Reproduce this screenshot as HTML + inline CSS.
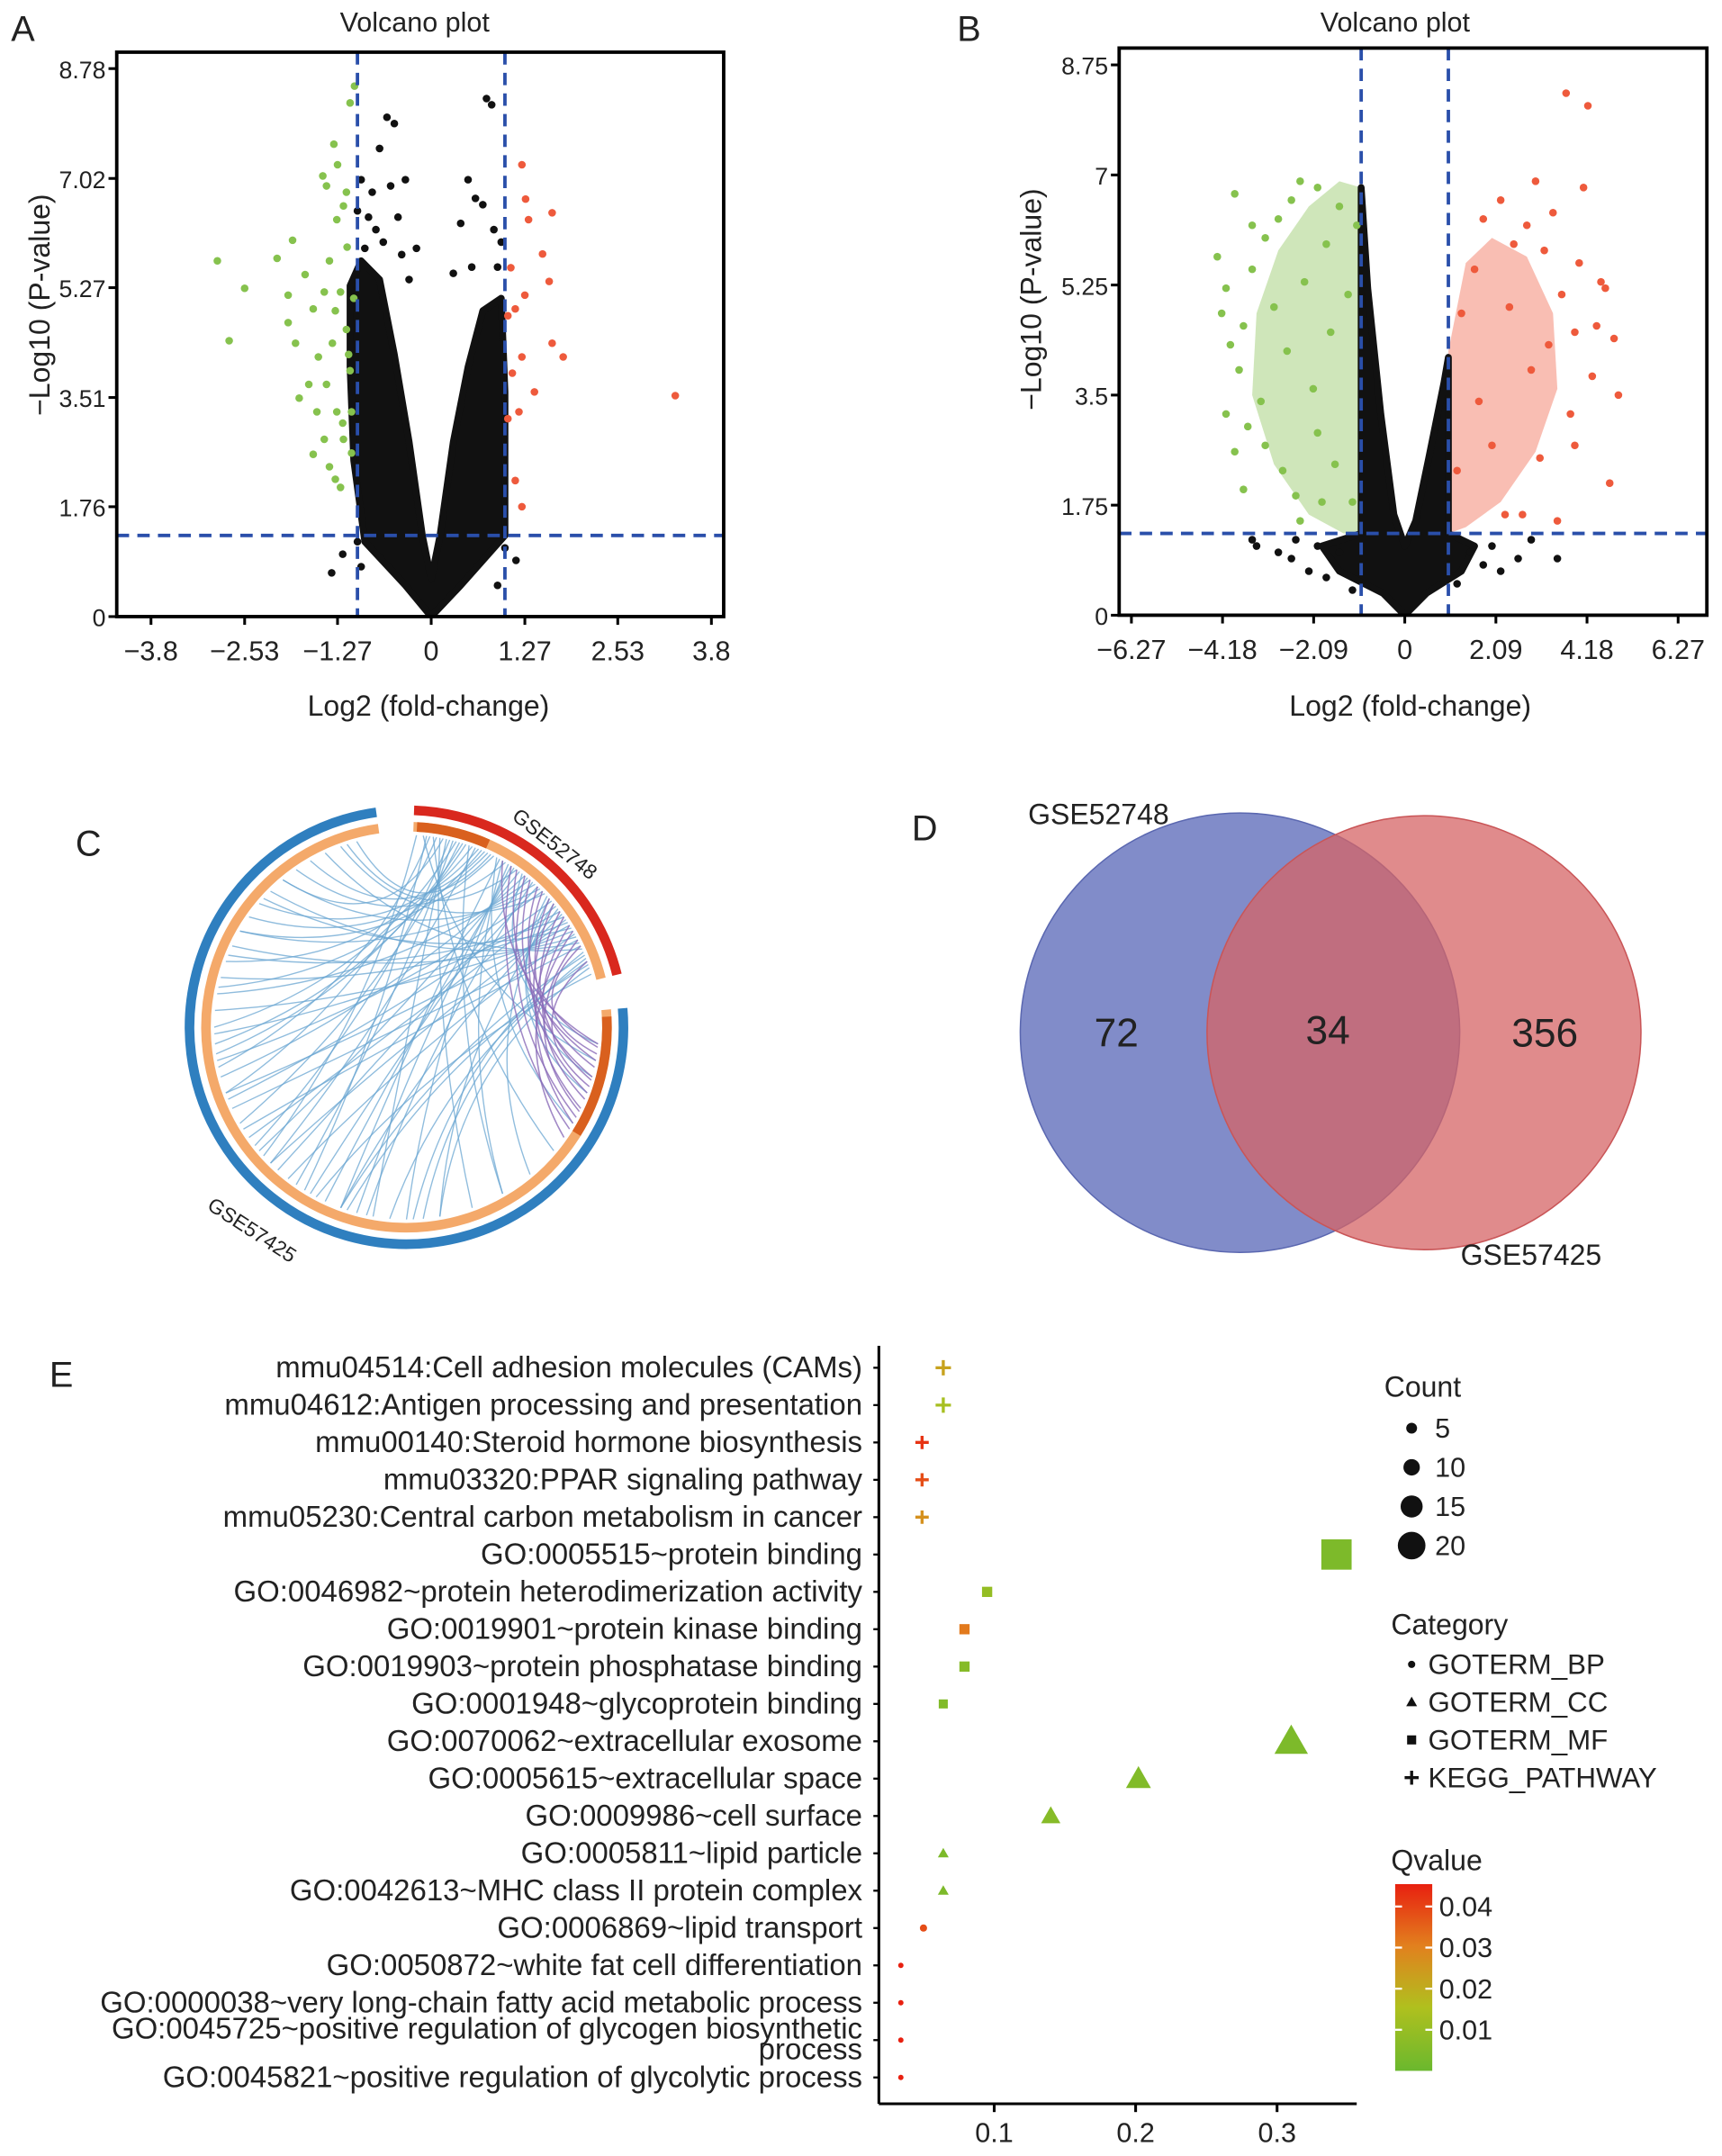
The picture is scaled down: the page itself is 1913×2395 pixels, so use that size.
<!DOCTYPE html>
<html><head><meta charset="utf-8"><style>
html,body{margin:0;padding:0;background:#fff}
svg{display:block}
text{font-family:"Liberation Sans",Arial,sans-serif;fill:#222}
</style></head><body>
<svg id="fig" xmlns="http://www.w3.org/2000/svg" width="1913" height="2395" viewBox="0 0 1254 1570">
<rect x="0" y="0" width="1254" height="1570" fill="#fff"/>
<g id="panelA">
 <text x="8" y="30" font-size="26">A</text>
 <text x="302" y="23" font-size="20" text-anchor="middle">Volcano plot</text>
 <text transform="translate(36,222) rotate(-90)" font-size="21" text-anchor="middle">−Log10 (P-value)</text>
 <text x="312" y="521" font-size="21" text-anchor="middle">Log2 (fold-change)</text>
</g>
<g id="panelB">
 <text x="697" y="30" font-size="26">B</text>
 <text x="1016" y="23" font-size="20" text-anchor="middle">Volcano plot</text>
 <text transform="translate(758,218) rotate(-90)" font-size="21" text-anchor="middle">−Log10 (P-value)</text>
 <text x="1027" y="521" font-size="21" text-anchor="middle">Log2 (fold-change)</text>
</g>
<g id="panelC">
 <text x="55" y="623" font-size="26">C</text>
 <text transform="translate(372,596) rotate(38)" font-size="15">GSE52748</text>
 <text transform="translate(150,880) rotate(33)" font-size="15">GSE57425</text>
</g>
<g id="panelD">
 <text x="664" y="612" font-size="26">D</text>
 <circle cx="903" cy="752" r="160" fill="#6f7cc2" fill-opacity="0.88" stroke="#5a67b0"/>
 <circle cx="1037" cy="752" r="158" fill="#d66466" fill-opacity="0.75" stroke="#c95557"/>
 <text x="800" y="600" font-size="21" text-anchor="middle">GSE52748</text>
 <text x="1115" y="921" font-size="21" text-anchor="middle">GSE57425</text>
 <text x="813" y="762" font-size="29" text-anchor="middle">72</text>
 <text x="967" y="760" font-size="29" text-anchor="middle">34</text>
 <text x="1125" y="762" font-size="29" text-anchor="middle">356</text>
</g>
<g id="panelE">
 <text x="36" y="1010" font-size="26">E</text>
</g>
</svg>
<script>
const NS="http://www.w3.org/2000/svg";
function mk(parent,tag,attrs,txt){const e=document.createElementNS(NS,tag);for(const k in attrs)e.setAttribute(k,attrs[k]);if(txt!==undefined)e.textContent=txt;parent.appendChild(e);return e;}

// ---------- Panel A data ----------
const aXTicks=[-3.8,-2.53,-1.27,0,1.27,2.53,3.8];
const aXTickLabels=["−3.8","−2.53","−1.27","0","1.27","2.53","3.8"];
const aYTicks=[0,1.76,3.51,5.27,7.02,8.78];
const aYTickLabels=["0","1.76","3.51","5.27","7.02","8.78"];
const aGreen=[[-2.9,5.7],[-2.53,5.26],[-2.74,4.42],[-2.09,5.74],[-1.88,6.03],[-1.47,7.06],[-1.42,6.9],[-1.32,7.57],[-1.27,7.24],[-1.94,5.15],[-1.94,4.71],[-1.84,4.38],[-1.71,5.48],[-1.6,4.93],[-1.53,4.16],[-1.38,5.7],[-1.28,6.36],[-1.19,6.58],[-1.14,5.92],[-1.42,3.72],[-1.28,3.28],[-1.19,2.84],[-1.45,2.84],[-1.38,2.4],[-1.23,2.07],[-1.15,4.6],[-1.1,3.94],[-1.08,3.28],[-1.34,4.38],[-1.66,3.72],[-1.79,3.5],[-1.55,3.28],[-1.08,2.62],[-1.04,8.5],[-1.1,8.23],[-1.23,5.2],[-1.15,6.8],[-1.3,4.9],[-1.45,5.2],[-1.2,3.1],[-1.12,4.2],[-1.05,5.1],[-1.6,2.6],[-1.3,2.2]];
const aRed=[[1.23,7.24],[1.28,6.69],[1.32,6.36],[1.64,6.47],[1.51,5.81],[1.6,5.37],[1.04,4.82],[1.14,4.93],[1.23,4.16],[1.64,4.38],[1.79,4.16],[1.19,3.28],[1.04,3.17],[1.14,2.18],[1.23,1.76],[3.31,3.54],[1.08,5.59],[1.27,5.15],[1.1,3.9],[1.4,3.6]];
const aBlack=[[-0.6,8.0],[-0.5,7.9],[-0.7,7.5],[-0.35,7.0],[-0.8,6.8],[-0.55,6.9],[0.75,8.3],[0.82,8.2],[0.5,7.0],[0.6,6.7],[0.7,6.6],[0.85,6.2],[-0.75,6.2],[-0.9,5.9],[-0.45,6.4],[0.4,6.3],[-1.0,1.2],[-1.2,1.0],[-0.95,0.8],[1.0,1.1],[1.15,0.9],[-1.35,0.7],[0.9,0.5],[-0.2,5.9],[0.3,5.5],[-0.85,6.4],[-0.65,6.0],[-0.95,7.0],[-0.4,5.8],[0.9,5.6],[0.95,6.0],[0.55,5.6],[-1.0,6.5],[-0.3,5.4]];
const aCloud=[[0,0],[-0.35,0.5],[-0.9,1.2],[-1.05,2.5],[-1.1,4],[-1.1,5.3],[-0.95,5.7],[-0.7,5.4],[-0.5,4.2],[-0.3,2.8],[-0.12,1.3],[0,0.6],[0.12,1.3],[0.3,2.8],[0.5,4.0],[0.7,4.9],[0.95,5.1],[1.0,3.6],[1.0,1.3],[0.4,0.5]];
const aThreshX=[-1,1];const aThreshY=[1.3];

// ---------- Panel B data ----------
const bXTicks=[-6.27,-4.18,-2.09,0,2.09,4.18,6.27];
const bXTickLabels=["−6.27","−4.18","−2.09","0","2.09","4.18","6.27"];
const bYTicks=[0,1.75,3.5,5.25,7,8.75];
const bYTickLabels=["0","1.75","3.5","5.25","7","8.75"];
const bGreenArea=[[-1,6.8],[-1.5,6.9],[-2.2,6.5],[-2.9,5.8],[-3.4,4.8],[-3.5,3.5],[-3.0,2.4],[-2.2,1.6],[-1.4,1.3],[-1,1.3]];
const bRedArea=[[1,4.2],[1.4,5.6],[2.0,6.0],[2.8,5.7],[3.4,4.8],[3.5,3.6],[3.0,2.6],[2.2,1.8],[1.4,1.4],[1,1.3]];
const bGreen=[[-3.9,6.7],[-4.3,5.7],[-4.1,5.2],[-3.7,4.6],[-3.8,3.9],[-3.5,5.5],[-3.2,6.0],[-2.9,6.3],[-2.6,6.6],[-2.4,6.9],[-2.0,6.8],[-3.6,3.0],[-3.2,2.7],[-2.8,2.3],[-2.5,1.9],[-3.9,2.6],[-3.3,3.4],[-2.7,4.2],[-2.3,5.3],[-1.8,5.9],[-1.5,6.5],[-1.3,5.1],[-1.7,4.5],[-2.1,3.6],[-1.6,2.4],[-1.2,1.8],[-2.0,2.9],[-3.0,4.9],[-4.0,4.3],[-1.1,6.2],[-4.1,3.2],[-3.7,2.0],[-2.4,1.5],[-1.9,1.8],[-4.2,4.8],[-3.5,6.2]];
const bRed=[[3.7,8.3],[4.2,8.1],[3.0,6.9],[4.1,6.8],[3.4,6.4],[2.8,6.2],[2.2,6.6],[4.5,5.3],[4.4,4.6],[4.8,4.4],[3.9,4.5],[3.6,5.1],[3.2,5.8],[2.5,5.9],[1.8,6.3],[4.7,2.1],[3.5,1.5],[3.1,2.5],[3.8,3.2],[2.9,3.9],[2.4,4.9],[1.6,5.5],[1.3,4.8],[2.0,2.7],[4.6,5.2],[4.0,5.6],[2.7,1.6],[1.2,2.3],[1.7,3.4],[3.3,4.3],[4.3,3.8],[3.9,2.7],[2.3,1.6],[4.9,3.5]];
const bBlack=[[-3.5,1.2],[-3.4,1.1],[-2.6,0.9],[-2.2,0.7],[-1.8,0.6],[-1.5,1.0],[1.5,1.0],[1.8,0.8],[2.2,0.7],[2.6,0.9],[3.5,0.9],[-1.2,0.4],[1.2,0.5],[-2.0,1.1],[-2.9,1.0],[-2.5,1.2],[2.0,1.1],[2.9,1.2]];
const bCloud=[[0,0],[-0.5,0.35],[-1.5,0.7],[-1.9,1.1],[-1.0,1.3],[-1.0,6.8],[-0.85,5.2],[-0.55,3.2],[-0.25,1.6],[0,1.1],[0.25,1.5],[0.55,2.5],[0.9,3.7],[1.0,4.1],[1.0,1.3],[1.6,1.1],[1.3,0.7],[0.5,0.35]];
const bThreshX=[-1,1];const bThreshY=[1.3];

function volcano(g,box,sx,sy,xT,xTL,yT,yTL,cloud,black,green,red,gArea,rArea,tX,tY,pre){
  const clip=mk(g,"clipPath",{id:pre+"clip"});mk(clip,"rect",{x:box[0],y:box[1],width:box[2]-box[0],height:box[3]-box[1]});
  const inner=mk(g,"g",{"clip-path":"url(#"+pre+"clip)"});
  const poly=(arr)=>arr.map(p=>sx(p[0])+","+sy(p[1])).join(" ");
  if(gArea){let e=mk(inner,"polygon",{points:poly(gArea),fill:"#8cc45a",opacity:"0.42"});
    
    }
  if(rArea){let e=mk(inner,"polygon",{points:poly(rArea),fill:"#f0654a",opacity:"0.42"});
    
    }
  let cl=mk(inner,"polygon",{points:poly(cloud),fill:"#111",stroke:"#111","stroke-width":"5","stroke-linejoin":"round"});
  
  
  black.forEach(p=>{let e=mk(inner,"circle",{cx:sx(p[0]),cy:sy(p[1]),r:2.8,fill:"#111"});
    
    });
  green.forEach(p=>{let e=mk(inner,"circle",{cx:sx(p[0]),cy:sy(p[1]),r:2.8,fill:"#86c24e"});
    
    });
  red.forEach(p=>{let e=mk(inner,"circle",{cx:sx(p[0]),cy:sy(p[1]),r:2.8,fill:"#ee5a3c"});
    
    });
  tX.forEach(v=>{let e=mk(inner,"line",{x1:sx(v),x2:sx(v),y1:box[1],y2:box[3],stroke:"#2a4faa","stroke-width":"2.5","stroke-dasharray":"9,6"});
    
    });
  tY.forEach(v=>{let e=mk(inner,"line",{x1:box[0],x2:box[2],y1:sy(v),y2:sy(v),stroke:"#2a4faa","stroke-width":"2.5","stroke-dasharray":"9,6"});
    
    });
  let fr=mk(g,"rect",{x:box[0],y:box[1],width:box[2]-box[0],height:box[3]-box[1],fill:"none",stroke:"#000","stroke-width":"2.5"});
  
  
  xT.forEach((v,i)=>{mk(g,"line",{x1:sx(v),x2:sx(v),y1:box[3],y2:box[3]+6,stroke:"#000","stroke-width":"2"});
    let t=mk(g,"text",{x:sx(v),y:box[3]+32,"font-size":"20","text-anchor":"middle"},xTL[i]);
    
    });
  yT.forEach((v,i)=>{mk(g,"line",{x1:box[0]-6,x2:box[0],y1:sy(v),y2:sy(v),stroke:"#000","stroke-width":"2"});
    let t=mk(g,"text",{x:box[0]-8,y:sy(v)+7,"font-size":"17.5","text-anchor":"end"},yTL[i]);
    
    });
}
volcano(document.getElementById("panelA"),[85,38,527,449],v=>314+53.7*v,v=>449-45.45*v,aXTicks,aXTickLabels,aYTicks,aYTickLabels,aCloud,aBlack,aGreen,aRed,null,null,aThreshX,aThreshY,"a");
volcano(document.getElementById("panelB"),[815,35,1243,448],v=>1023+31.75*v,v=>448-45.8*v,bXTicks,bXTickLabels,bYTicks,bYTickLabels,bCloud,bBlack,bGreen,bRed,bGreenArea,bRedArea,bThreshX,bThreshY,"b");

// ---------- Panel C chord data (degrees, clockwise from top) ----------
const chordStart=[5,8,10,12,14,16,18,20,22,24,26,28,30,32,34,36,38,40,42,44,46,48,50,52,54,56,58,60,62,64,66,68,70,72,9,15,21,27,33,39,45,51,57,63,69,11,19,29,37,47,6,13,17,23,25,31,35,41,43,49,53,55,59,61,65,67,71,74,7,3];
const chordEnd=[100,130,160,190,215,240,265,290,310,330,345,120,150,180,205,230,255,280,300,320,340,110,140,170,200,225,250,275,295,315,335,200,185,170,250,270,225,300,195,210,260,235,285,245,175,320,150,200,95,105,212,232,262,282,305,325,342,192,222,248,268,292,312,218,238,178,198,208,258,228];
const purpleStart=[30,35,40,45,50,55,60,65,70,38,48,58,33,43,53,63];
const purpleEnd=[95,100,105,110,115,120,125,98,108,118,102,112,122,96,106,116];
const cx=296,cy=748;
function pt(a,r){const t=a*Math.PI/180;return [cx+r*Math.sin(t),cy-r*Math.cos(t)];}
function arc(g,a0,a1,r,col,w,name){const p0=pt(a0,r),p1=pt(a1,r);const large=(a1-a0)>180?1:0;
  let e=mk(g,"path",{d:`M${p0[0]},${p0[1]} A${r},${r} 0 ${large} 1 ${p1[0]},${p1[1]}`,fill:"none",stroke:col,"stroke-width":w});
  
  }
const gc=document.getElementById("panelC");
const chordG=mk(gc,"g",{});
chordStart.forEach((s,i)=>{const p0=pt(s,140),p1=pt(chordEnd[i],140);
  let e=mk(chordG,"path",{d:`M${p0[0]},${p0[1]} Q${cx+(p0[0]+p1[0]-2*cx)*0.25},${cy+(p0[1]+p1[1]-2*cy)*0.25} ${p1[0]},${p1[1]}`,fill:"none",stroke:"#6aa6d2","stroke-width":"0.9",opacity:"0.75"});
  
  });
purpleStart.forEach((s,i)=>{const p0=pt(s,140),p1=pt(purpleEnd[i],140);
  let e=mk(chordG,"path",{d:`M${p0[0]},${p0[1]} Q${cx+(p0[0]+p1[0]-2*cx)*0.3},${cy+(p0[1]+p1[1]-2*cy)*0.3} ${p1[0]},${p1[1]}`,fill:"none",stroke:"#8a6ab8","stroke-width":"1",opacity:"0.8"});
  
  });
arc(gc,85,352,158,"#2f7fbf",7,"outer-arc-gse57425");
arc(gc,2,76,158,"#d9281e",7,"outer-arc-gse52748");
arc(gc,85,352,146,"#f4a96a",7,"inner-arc-gse57425");
arc(gc,2,76,146,"#f4a96a",7,"inner-arc-gse52748");
arc(gc,3,24,146,"#d9601e",7,"inner-arc-shared-a");
arc(gc,87,122,146,"#d9601e",7,"inner-arc-shared-b");

// ---------- Panel E data ----------
const eTerms=["mmu04514:Cell adhesion molecules (CAMs)","mmu04612:Antigen processing and presentation","mmu00140:Steroid hormone biosynthesis","mmu03320:PPAR signaling pathway","mmu05230:Central carbon metabolism in cancer","GO:0005515~protein binding","GO:0046982~protein heterodimerization activity","GO:0019901~protein kinase binding","GO:0019903~protein phosphatase binding","GO:0001948~glycoprotein binding","GO:0070062~extracellular exosome","GO:0005615~extracellular space","GO:0009986~cell surface","GO:0005811~lipid particle","GO:0042613~MHC class II protein complex","GO:0006869~lipid transport","GO:0050872~white fat cell differentiation","GO:0000038~very long-chain fatty acid metabolic process","GO:0045725~positive regulation of glycogen biosynthetic|process","GO:0045821~positive regulation of glycolytic process"];
const eRatio=[0.064,0.064,0.049,0.049,0.049,0.342,0.095,0.079,0.079,0.064,0.310,0.202,0.140,0.064,0.064,0.050,0.034,0.034,0.034,0.034];
const eCount=[3,3,2,2,2,21,4,4,4,3,19,13,9,3,3,3,1,1,1,1];
const eQ=[0.022,0.013,0.042,0.038,0.026,0.004,0.009,0.031,0.006,0.005,0.004,0.005,0.006,0.004,0.004,0.038,0.045,0.045,0.045,0.045];
const eCat=["KEGG","KEGG","KEGG","KEGG","KEGG","MF","MF","MF","MF","MF","CC","CC","CC","CC","CC","BP","BP","BP","BP","BP"];
const eXTicks=[0.1,0.2,0.3];
const eXTickLabels=["0.1","0.2","0.3"];
const legCounts=[5,10,15,20];
const legCats=["GOTERM_BP","GOTERM_CC","GOTERM_MF","KEGG_PATHWAY"];
const legQTicks=[0.04,0.03,0.02,0.01];

const ge=document.getElementById("panelE");
const ex=v=>621+1030*v, ey=i=>996+27.2*i, esz=c=>2+c*0.43;
function qcol(q){const st=[[0,[106,184,46]],[0.015,[176,192,30]],[0.03,[226,128,30]],[0.045,[232,32,16]]];
  q=Math.max(0,Math.min(0.045,q));for(let i=0;i<3;i++){if(q<=st[i+1][0]){const t=(q-st[i][0])/(st[i+1][0]-st[i][0]);const c=st[i][1].map((a,k)=>Math.round(a+(st[i+1][1][k]-a)*t));return `rgb(${c})`;}}return "rgb(232,32,16)";}
function marker(g,cat,x,y,s,col){let e;
  if(cat==="BP")e=mk(g,"circle",{cx:x,cy:y,r:s*0.8,fill:col});
  else if(cat==="MF")e=mk(g,"rect",{x:x-s,y:y-s,width:2*s,height:2*s,fill:col});
  else if(cat==="CC")e=mk(g,"polygon",{points:`${x},${y-s*1.2} ${x+s*1.2},${y+s*0.9} ${x-s*1.2},${y+s*0.9}`,fill:col});
  else {e=mk(g,"path",{d:`M${x-s*1.7},${y}H${x+s*1.7}M${x},${y-s*1.7}V${y+s*1.7}`,stroke:col,"stroke-width":"2.2",fill:"none"});}
  return e;}
mk(ge,"line",{x1:640,x2:640,y1:980,y2:1532,stroke:"#000","stroke-width":"2"});
mk(ge,"line",{x1:640,x2:988,y1:1532,y2:1532,stroke:"#000","stroke-width":"2"});
eXTicks.forEach((v,i)=>{mk(ge,"line",{x1:ex(v),x2:ex(v),y1:1532,y2:1538,stroke:"#000","stroke-width":"2"});
  let t=mk(ge,"text",{x:ex(v),y:1560,"font-size":"20","text-anchor":"middle"},eXTickLabels[i]);
  
  });
eTerms.forEach((s,i)=>{const parts=s.split("|");
  let t=mk(ge,"text",{x:628,y:ey(i)+7+(parts.length>1?-8:0),"font-size":"21.6","text-anchor":"end"},parts[0]);
  
  
  if(parts[1]){let t2=mk(ge,"text",{x:628,y:ey(i)+14,"font-size":"21.6","text-anchor":"end"},parts[1]);
    
    }
  mk(ge,"line",{x1:636,x2:640,y1:ey(i),y2:ey(i),stroke:"#000","stroke-width":"1.5"});
  let m=marker(ge,eCat[i],ex(eRatio[i]),ey(i),esz(eCount[i]),qcol(eQ[i]));
  
  });
// legends
let t=mk(ge,"text",{x:1008,y:1017,"font-size":"21"},"Count");


legCounts.forEach((c,i)=>{const y=1040+28.5*i;mk(ge,"circle",{cx:1028,cy:y,r:esz(c)*0.95,fill:"#111"});
  let l=mk(ge,"text",{x:1045,y:y+7,"font-size":"20"},String(c));
  
  });
t=mk(ge,"text",{x:1013,y:1190,"font-size":"21"},"Category");


["BP","CC","MF","KEGG"].forEach((c,i)=>{const y=1212+27.5*i;marker(ge,c,1028,y,c==="KEGG"?3:3.3,"#111");
  let l=mk(ge,"text",{x:1040,y:y+7,"font-size":"20.5"},legCats[i]);
  
  });
t=mk(ge,"text",{x:1013,y:1362,"font-size":"21"},"Qvalue");


const defs=mk(document.getElementById("fig"),"defs",{});
const lg=mk(defs,"linearGradient",{id:"qg",x1:"0",y1:"0",x2:"0",y2:"1"});
[[0,0.045],[0.33,0.03],[0.66,0.015],[1,0]].forEach(s=>mk(lg,"stop",{offset:s[0],"stop-color":qcol(s[1])}));
let cb=mk(ge,"rect",{x:1016,y:1372,width:27,height:136,fill:"url(#qg)"});


legQTicks.forEach(q=>{const y=1508-(q/0.045)*136*0.99;
  mk(ge,"line",{x1:1016,x2:1021,y1:y,y2:y,stroke:"#fff","stroke-width":"1.5"});
  mk(ge,"line",{x1:1038,x2:1043,y1:y,y2:y,stroke:"#fff","stroke-width":"1.5"});
  let l=mk(ge,"text",{x:1048,y:y+7,"font-size":"20"},q.toFixed(2));
  
  });
</script>
</body></html>
